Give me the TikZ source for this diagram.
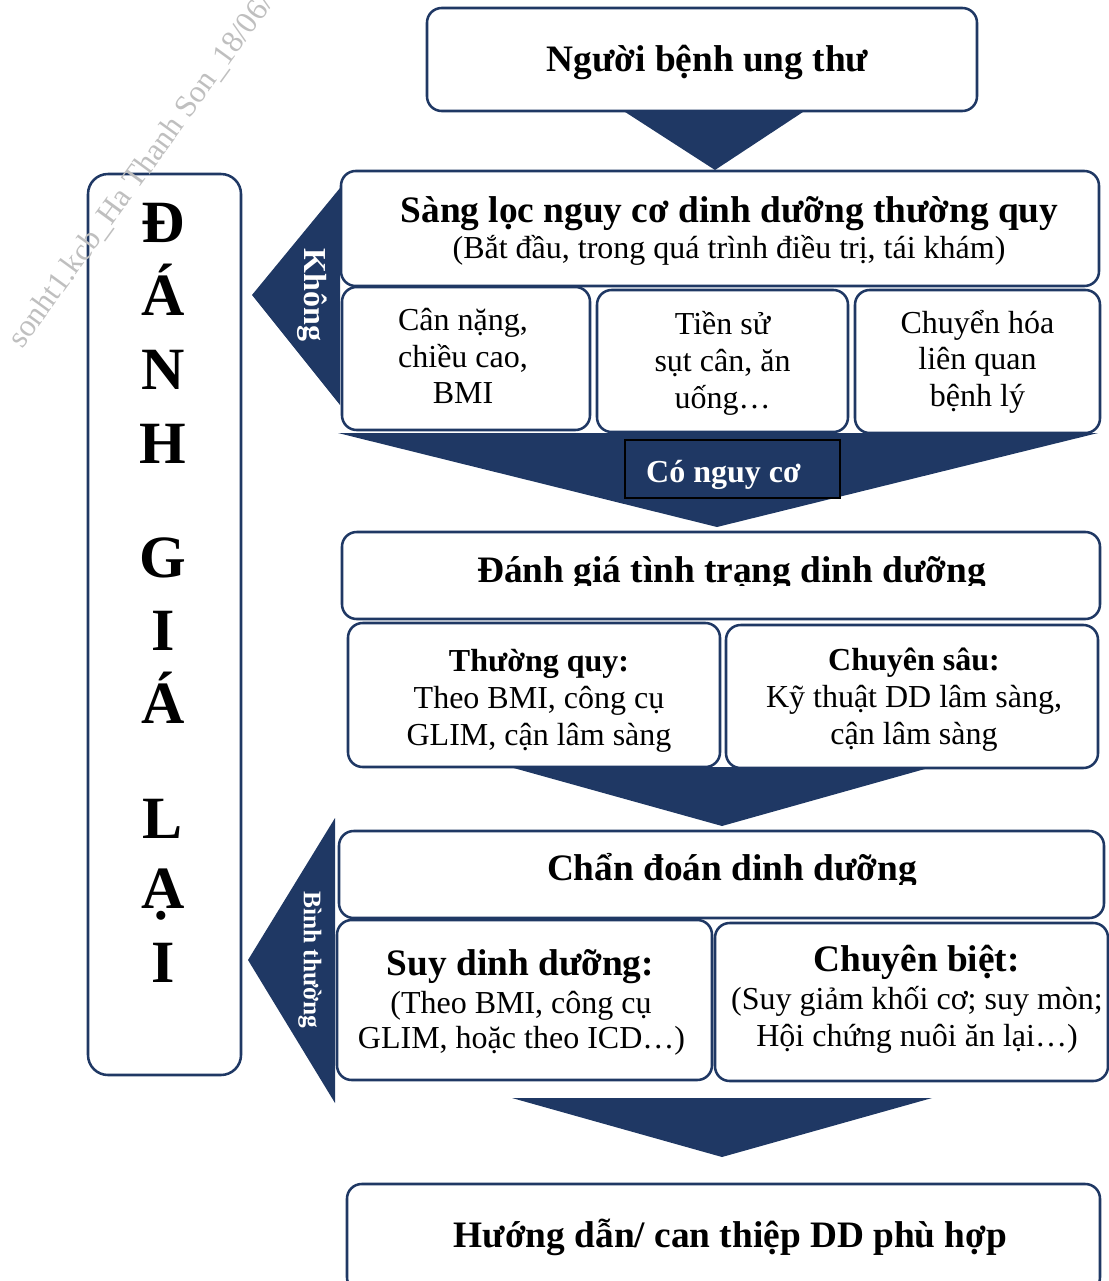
\documentclass[tikz,border=0pt]{standalone}
\usepackage{fontspec}
\setmainfont{Liberation Serif}
\usetikzlibrary{fit}
\definecolor{navy}{HTML}{1F3864}
\begin{document}
\begin{tikzpicture}[x=0.75pt,y=-0.75pt,
  box/.style={draw=navy, line width=1.9pt, rounded corners=11pt, fill=white, inner sep=0pt},
  tl/.style={anchor=base, inner sep=0pt, font=\fontsize{24}{26}\selectfont},
  tb/.style={anchor=base, inner sep=0pt, font=\fontsize{24}{26}\selectfont\bfseries},
  th/.style={anchor=base, inner sep=0pt, font=\fontsize{28}{30}\selectfont\bfseries},
  tri/.style={fill=navy, draw=none},
  letter/.style={font=\fontsize{45}{50}\selectfont\bfseries, anchor=base, inner sep=0pt},
  sidelabel/.style={text=white, rotate=-90, inner sep=0pt}
]
\useasboundingbox (0,0) rectangle (1109,1281);

% side arrows (behind boxes)
\fill[tri] (340,188) -- (252,295) -- (340,405) -- cycle;
\fill[tri] (335,818) -- (248,960) -- (335,1103) -- cycle;
\node[sidelabel, font=\fontsize{24}{26}\selectfont\bfseries] (khong) at (312,295) {Không};
\node[sidelabel, font=\fontsize{19}{21}\selectfont\bfseries] (binhthuong) at (310,960) {Bình thường};

% boxes
\node[box, fit={(427,8)(977,111)}] (start) {};
\node[th] (start-t) at (707.5,72) {Người bệnh ung thư};

\node[box, fit={(341,171)(1099,286)}] (screen) {};
\node[th] (screen-t1) at (729.5,222) {Sàng lọc nguy cơ dinh dưỡng thường quy};
\node[tl] (screen-t2) at (729,258) {(Bắt đầu, trong quá trình điều trị, tái khám)};

\node[box, fit={(342,287)(590,430)}] (s1) {};
\node[tl] (s1-t1) at (463,330) {Cân nặng,};
\node[tl] (s1-t2) at (463,367) {chiều cao,};
\node[tl] (s1-t3) at (463,403) {BMI};

\node[box, fit={(597,290)(848,432)}] (s2) {};
\node[tl] (s2-t1) at (722.5,334) {Tiền sử};
\node[tl] (s2-t2) at (722.5,371) {sụt cân, ăn};
\node[tl] (s2-t3) at (722.5,408) {uống…};

\node[box, fit={(855,290)(1100,433)}] (s3) {};
\node[tl] (s3-t1) at (977.5,333) {Chuyển hóa};
\node[tl] (s3-t2) at (977.5,369) {liên quan};
\node[tl] (s3-t3) at (977.5,406) {bệnh lý};

\node[box, fit={(342,532)(1100,619)}] (assess) {};
\begin{scope}
  \clip (345,535) rectangle (1097,585);
  \node[th] (assess-t) at (731.5,582) {Đánh giá tình trạng dinh dưỡng};
\end{scope}

\node[box, fit={(348,623)(720,767)}] (a1) {};
\node[tb] (a1-t1) at (539,671) {Thường quy:};
\node[tl] (a1-t2) at (539,708) {Theo BMI, công cụ};
\node[tl] (a1-t3) at (539,745) {GLIM, cận lâm sàng};

\node[box, fit={(726,625)(1098,768)}] (a2) {};
\node[tb] (a2-t1) at (914,670) {Chuyên sâu:};
\node[tl] (a2-t2) at (914,707) {Kỹ thuật DD lâm sàng,};
\node[tl] (a2-t3) at (914,744) {cận lâm sàng};

\node[box, fit={(339,831)(1104,918)}] (diag) {};
\begin{scope}
  \clip (342,834) rectangle (1101,884);
  \node[th] (diag-t) at (732,880) {Chẩn đoán dinh dưỡng};
\end{scope}

\node[box, fit={(337,920)(712,1080)}] (d1) {};
\node[th] (d1-t1) at (520.5,975) {Suy dinh dưỡng:};
\node[tl] (d1-t2) at (521,1013) {(Theo BMI, công cụ};
\node[tl] (d1-t3) at (521.5,1048) {GLIM, hoặc theo ICD…)};

\node[box, fit={(715,923)(1108,1081)}] (d2) {};
\node[th] (d2-t1) at (916.5,971) {Chuyên biệt:};
\node[tl] (d2-t2) at (917,1009) {(Suy giảm khối cơ; suy mòn;};
\node[tl] (d2-t3) at (917,1046) {Hội chứng nuôi ăn lại…)};

\node[box, fit={(347,1184)(1100,1292)}] (guide) {};
\node[th] (guide-t) at (730.5,1247) {Hướng dẫn/ can thiệp DD phù hợp};

% re-evaluation column
\node[box, rounded corners=15pt, fit={(88,174)(241,1075)}] (reeval) {};
\node[letter] (l1) at (163,242) {Đ};
\node[letter] (l2) at (163,315) {Á};
\node[letter] (l3) at (163,389) {N};
\node[letter] (l4) at (163,463) {H};
\node[letter] (l5) at (163,577) {G};
\node[letter] (l6) at (163,650) {I};
\node[letter] (l7) at (163,723) {Á};
\node[letter] (l8) at (163,838) {L};
\node[letter] (l9) at (163,908) {Ạ};
\node[letter] (l10) at (163,982) {I};

% down arrows
\fill[tri] (622,110) -- (806,110) -- (715,170) -- cycle;
\fill[tri] (338,433) -- (1098,433) -- (717,527) -- cycle;
\node[fill=navy, draw=black, line width=1.5pt, minimum width=215*0.75pt, minimum height=58*0.75pt,
  inner sep=0pt] (risk) at (732.5,469) {};
\node[tb, text=white] (risk-t) at (723.5,482) {Có nguy cơ};
\fill[tri] (510,767) -- (932,767) -- (722,826) -- cycle;
\fill[tri] (512,1098) -- (932,1098) -- (722,1157) -- cycle;

% watermark
\node[text=black!25, font=\fontsize{23.5}{25}\selectfont, rotate=54, anchor=base west, inner sep=0pt]
  (wm) at (22,350) {sonht1.kcb\_Ha Thanh Son\_18/06/};
\end{tikzpicture}
\end{document}
